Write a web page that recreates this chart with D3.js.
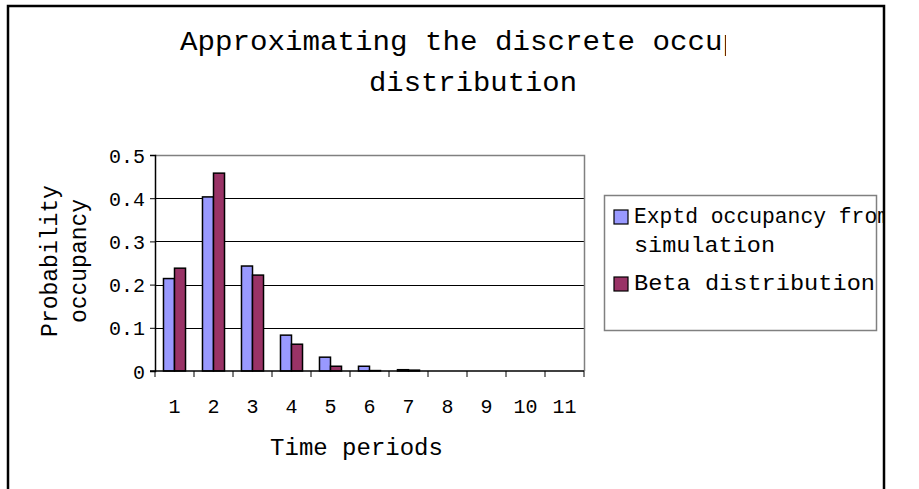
<!DOCTYPE html>
<html>
<head>
<meta charset="utf-8">
<script src="https://cdn.jsdelivr.net/npm/d3@7"></script>
<style>
  body { margin: 0; background: #fff; }
  svg { display: block; }
  text { font-family: "Liberation Mono", "DejaVu Sans Mono", monospace; fill: #000; }
</style>
</head>
<body>
<svg width="919" height="489"></svg>
<script>
// data
const periods = ["1", "2", "3", "4", "5", "6", "7", "8", "9", "10", "11"]
const seriesNames = ["Exptd occupancy from simulation", "Beta distribution"]
const simulated = [0.214, 0.403, 0.243, 0.083, 0.032, 0.011, 0.003, 0, 0, 0, 0]
const beta = [0.238, 0.458, 0.222, 0.062, 0.011, 0.001, 0.002, 0, 0, 0, 0]
const yTicks = [0, 0.1, 0.2, 0.3, 0.4, 0.5]
const colours = ["#9999FF", "#993366"]

const svg = d3.select("svg")

// clip everything to the chart frame
svg.append("defs").append("clipPath").attr("id", "frame")
    .append("rect").attr("x", 7).attr("y", 5).attr("width", 877).attr("height", 500)
svg.append("defs").append("clipPath").attr("id", "titleClip")
    .append("rect").attr("x", 0).attr("y", 0).attr("width", 726).attr("height", 70)

const root = svg.append("g").attr("clip-path", "url(#frame)")

const plot = {left: 155, right: 584, top: 155, bottom: 371}

const x0 = d3.scaleBand().domain(periods).range([plot.left, plot.right]).padding(0)
const groupW = x0.bandwidth() * 0.565
const x1 = d3.scaleBand().domain(seriesNames).range([0, groupW])
const y = d3.scaleLinear().domain([0, 0.5]).range([plot.bottom, plot.top])

// title (the original is cut off at the right)
root.append("text")
    .attr("clip-path", "url(#titleClip)")
    .attr("x", 180).attr("y", 50)
    .style("font-size", "27px")
    .attr("textLength", 630).attr("lengthAdjust", "spacingAndGlyphs")
    .text("Approximating the discrete occupancy")
root.append("text")
    .attr("x", 369).attr("y", 91)
    .style("font-size", "27px")
    .attr("textLength", 208).attr("lengthAdjust", "spacingAndGlyphs")
    .text("distribution")

// gridlines
root.append("g").selectAll("line")
    .data(yTicks.filter(d => d > 0 && d < 0.5))
    .join("line")
    .attr("x1", plot.left).attr("x2", plot.right)
    .attr("y1", d => Math.round(y(d)) + 0.5).attr("y2", d => Math.round(y(d)) + 0.5)
    .attr("stroke", "#000").attr("stroke-width", 1)

// top and right frame of plot area (grey)
root.append("path")
    .attr("d", `M${plot.left},${plot.top + 0.5}H${plot.right + 0.5}V${plot.bottom}`)
    .attr("fill", "none").attr("stroke", "#808080").attr("stroke-width", 1.5)

// bars
const rows = periods.map((p, i) => ({p, vals: [simulated[i], beta[i]]}))
const groups = root.append("g").selectAll("g")
    .data(rows)
    .join("g")
    .attr("transform", d => `translate(${x0(d.p) + (x0.bandwidth() - groupW) / 2},0)`)
groups.selectAll("rect")
    .data(d => d.vals.map((v, k) => ({name: seriesNames[k], v, k})).filter(e => e.v > 0))
    .join("rect")
    .attr("x", d => x1(d.name))
    .attr("width", x1.bandwidth())
    .attr("y", d => y(d.v))
    .attr("height", d => y(0) - y(d.v))
    .attr("fill", d => colours[d.k])
    .attr("stroke", "#000").attr("stroke-width", 1.5)

// y axis
const yAxis = root.append("g")
    .attr("transform", `translate(${plot.left},0)`)
    .call(d3.axisLeft(y).tickValues(yTicks).tickFormat(d => d === 0 ? "0" : d3.format(".1f")(d)).tickSize(5).tickPadding(5))
yAxis.selectAll("text").style("font-size", "20px").attr("dy", "0.35em")
yAxis.selectAll("line, path").attr("stroke", "#000")
yAxis.select(".domain").attr("stroke-width", 1.5)

// x axis: ticks at band edges
const xAxis = root.append("g").attr("transform", `translate(0,${plot.bottom})`)
xAxis.append("line")
    .attr("x1", plot.left - 5).attr("x2", plot.right)
    .attr("stroke", "#000").attr("stroke-width", 1.5)
xAxis.selectAll(".tk")
    .data(periods.concat(["end"]))
    .join("line")
    .attr("class", "tk")
    .attr("x1", d => d === "end" ? plot.right : x0(d))
    .attr("x2", d => d === "end" ? plot.right : x0(d))
    .attr("y1", 0).attr("y2", 6)
    .attr("stroke", "#000").attr("stroke-width", 1)
xAxis.selectAll(".lbl")
    .data(periods)
    .join("text")
    .attr("class", "lbl")
    .attr("x", d => x0(d) + x0.bandwidth() / 2)
    .attr("y", 42)
    .attr("text-anchor", "middle")
    .style("font-size", "20px")
    .text(d => d)

// axis titles
root.append("text")
    .attr("x", (plot.left + plot.right) / 2 - 13).attr("y", 455)
    .attr("text-anchor", "middle")
    .style("font-size", "24px")
    .text("Time periods")
const yTitle = root.append("text")
    .attr("transform", `translate(57,${(plot.top + plot.bottom) / 2 - 2}) rotate(-90)`)
    .attr("text-anchor", "middle")
    .style("font-size", "23px")
yTitle.append("tspan").attr("x", 0).attr("dy", 0).text("Probability")
yTitle.append("tspan").attr("x", 0).attr("dy", 29).text("occupancy")

// legend
const legend = root.append("g")
legend.append("rect")
    .attr("x", 604.5).attr("y", 195.5).attr("width", 272).attr("height", 135)
    .attr("fill", "#fff").attr("stroke", "#808080").attr("stroke-width", 1.5)
const legRows = [
    {lines: ["Exptd occupancy from", "simulation"], widths: [256, 141], k: 0, base: 223},
    {lines: ["Beta distribution"], widths: [241], k: 1, base: 290}
]
legRows.forEach(r => {
    legend.append("rect")
        .attr("x", 614).attr("y", r.base - 13).attr("width", 14).attr("height", 14)
        .attr("fill", colours[r.k]).attr("stroke", "#000").attr("stroke-width", 1.2)
    r.lines.forEach((l, i) => legend.append("text")
        .attr("x", 634).attr("y", r.base + i * 29)
        .style("font-size", "22.5px")
        .attr("textLength", r.widths[i]).attr("lengthAdjust", "spacingAndGlyphs")
        .text(l))
})

// outer chart border
svg.append("path")
    .attr("d", "M8,489V6H884V489")
    .attr("fill", "none").attr("stroke", "#000").attr("stroke-width", 2.5)
</script>
</body>
</html>
